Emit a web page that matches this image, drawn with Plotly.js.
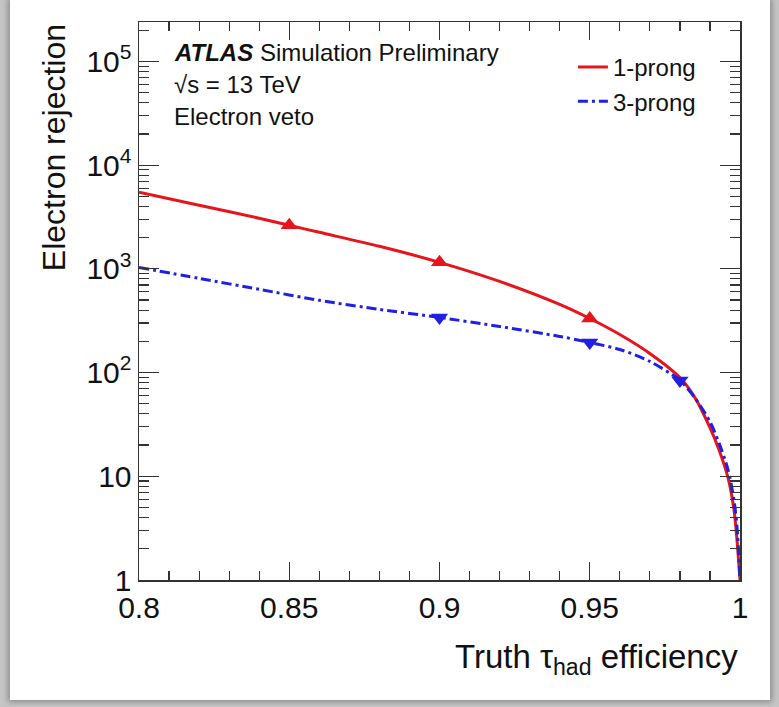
<!DOCTYPE html>
<html>
<head>
<meta charset="utf-8">
<script src="https://cdn.plot.ly/plotly-3.0.1.min.js"></script>
<style>
  html, body { margin: 0; padding: 0; background: #c6c6c6; width: 779px; height: 707px; overflow: hidden; }
  #card { position: absolute; left: 10px; top: 0px; width: 760px; height: 700px; background: #fff;
          box-shadow: 0 0 6px 2px rgba(90,90,90,0.55); }
  #chart { width: 760px; height: 700px; }
</style>
</head>
<body>
<div id="card"><div id="chart"></div></div>
<script>
// ---- data ----
const eff1 = [0.80, 0.82, 0.84, 0.85, 0.86, 0.88, 0.90, 0.92, 0.94, 0.95, 0.96, 0.97, 0.98, 0.985, 0.99, 0.993, 0.996, 0.998, 0.999, 1.0];
const rej1 = [5480, 4110, 3075, 2630, 2250, 1650, 1155, 757, 454, 332, 233, 153, 89.5, 57.3, 29.4, 18.0, 9.7, 4.75, 2.43, 1.0];

const eff3 = [0.80, 0.82, 0.84, 0.86, 0.88, 0.90, 0.92, 0.94, 0.95, 0.96, 0.97, 0.98, 0.985, 0.99, 0.993, 0.996, 0.998, 0.999, 1.0];
const rej3 = [1033, 809, 634, 497, 406, 340, 278, 223, 195, 167, 128, 84, 57, 33.6, 21, 11.6, 5.9, 3.25, 1.0];

const mEff1 = [0.85, 0.90, 0.95];
const mRej1 = [2630, 1155, 332];
const mEff3 = [0.90, 0.95, 0.98];
const mRej3 = [340, 195, 84];

const yTickVals = [1, 10, 100, 1000, 10000, 100000];
const yTickText = ['1', '10', '10<sup>2</sup>', '10<sup>3</sup>', '10<sup>4</sup>', '10<sup>5</sup>'];
const seriesNames = ['1-prong', '3-prong'];

// ---- styling ----
const RED = '#e8141c';
const BLUE = '#1f1fe6';
const FONT = 'Liberation Sans, Arial, Helvetica, sans-serif';
const INK = '#111111';
const AX = '#333333';

const yMinor = [];
for (let k = 0; k < 6; k++) for (let m = 2; m <= 9; m++) yMinor.push(m * Math.pow(10, k));

const traces = [
  { x: eff1, y: rej1, mode: 'lines', name: seriesNames[0], line: { color: RED, width: 3, shape: 'spline', smoothing: 0.8 } },
  { x: eff3, y: rej3, mode: 'lines', name: seriesNames[1], line: { color: BLUE, width: 3, dash: '10px,4px,3px,4px', shape: 'spline', smoothing: 0.8 } },
  { x: mEff1, y: mRej1, mode: 'markers', showlegend: false, marker: { symbol: 'triangle-up', size: 15, color: RED } },
  { x: mEff3, y: mRej3, mode: 'markers', showlegend: false, marker: { symbol: 'triangle-down', size: 15, color: BLUE } }
];

const axisCommon = {
  showline: true, linecolor: AX, linewidth: 1.5, mirror: 'allticks',
  ticks: 'inside', tickcolor: AX, tickwidth: 1.2,
  showgrid: false, zeroline: false,
  tickfont: { family: FONT, size: 30, color: INK }
};

const layout = {
  width: 760, height: 700,
  margin: { l: 129, r: 30, t: 22, b: 120 },
  paper_bgcolor: '#ffffff', plot_bgcolor: '#ffffff',
  showlegend: true,
  legend: {
    x: 0.722, y: 0.959, xanchor: 'left', yanchor: 'top',
    bgcolor: 'rgba(0,0,0,0)', borderwidth: 0,
    font: { family: FONT, size: 24, color: INK },
    itemwidth: 30, tracegroupgap: 0
  },
  xaxis: Object.assign({}, axisCommon, {
    range: [0.8, 1.0], tickmode: 'linear', tick0: 0.8, dtick: 0.05, ticklen: 18
  }),
  yaxis: Object.assign({}, axisCommon, {
    type: 'log', range: [0, 5.38], tickmode: 'array', tickvals: yTickVals, ticktext: yTickText, ticklen: 20
  }),
  // overlay axes that only carry the minor ticks
  xaxis2: {
    overlaying: 'x', anchor: 'y', side: 'bottom', range: [0.8, 1.0], tickmode: 'linear', tick0: 0.8, dtick: 0.01,
    ticks: 'inside', ticklen: 9, tickwidth: 1.2, tickcolor: AX, showticklabels: false,
    showline: false, mirror: 'allticks', showgrid: false, zeroline: false
  },
  yaxis2: {
    overlaying: 'y', anchor: 'x', side: 'left', type: 'log', range: [0, 5.38], tickmode: 'array', tickvals: yMinor,
    ticks: 'inside', ticklen: 10, tickwidth: 1.2, tickcolor: AX, showticklabels: false,
    showline: false, mirror: 'allticks', showgrid: false, zeroline: false
  },
  annotations: [
    { xref: 'paper', yref: 'paper', x: 0.055, y: 0.946, xanchor: 'left', yanchor: 'middle', showarrow: false,
      text: '<b><i>ATLAS</i></b> Simulation Preliminary', font: { family: FONT, size: 24, color: INK } },
    { xref: 'paper', yref: 'paper', x: 0.055, y: 0.888, xanchor: 'left', yanchor: 'middle', showarrow: false,
      text: '\u221As = 13 TeV', font: { family: FONT, size: 24, color: INK } },
    { xref: 'paper', yref: 'paper', x: 0.055, y: 0.83, xanchor: 'left', yanchor: 'middle', showarrow: false,
      text: 'Electron veto', font: { family: FONT, size: 24, color: INK } },
    { xref: 'paper', yref: 'paper', x: 1.0, y: -0.142, xanchor: 'right', yanchor: 'middle', showarrow: false,
      text: 'Truth \u03C4<sub>had</sub> efficiency', font: { family: FONT, size: 33, color: INK } },
    { xref: 'paper', yref: 'paper', x: -0.142, y: 1.0, xanchor: 'center', yanchor: 'top', showarrow: false, textangle: -90,
      text: 'Electron rejection', font: { family: FONT, size: 32, color: INK } }
  ]
};

// a hidden helper trace binds the minor-tick axes so they are drawn
traces.push({ x: [0.9], y: [10], xaxis: 'x2', yaxis: 'y2', mode: 'markers', showlegend: false, hoverinfo: 'skip', marker: { opacity: 0 } });

Plotly.newPlot('chart', traces, layout, { displayModeBar: false, staticPlot: true });
</script>
</body>
</html>
